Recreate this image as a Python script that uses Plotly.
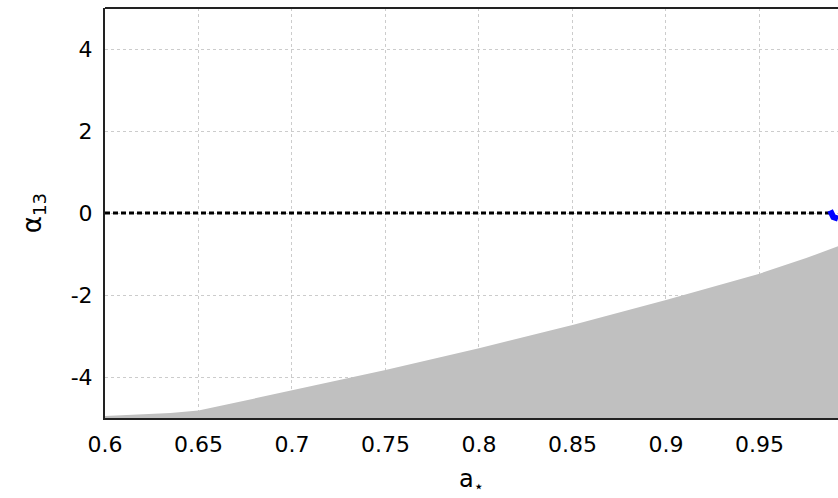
import plotly.graph_objects as go

# boundary of the excluded (gray) region
a_star = [0.6, 0.635, 0.65, 0.7, 0.75, 0.8, 0.85, 0.9, 0.95, 0.975, 0.992]
alpha_bound = [-4.95, -4.88, -4.82, -4.32, -3.83, -3.30, -2.73, -2.12, -1.48, -1.10, -0.81]

# zero reference line
zero_x = [0.6, 0.988]
zero_y = [0.0, 0.0]

# blue marker at the end
blue_x = [0.9878, 0.9895, 0.992]
blue_y = [0.06, -0.10, -0.14]

xticks = [0.6, 0.65, 0.7, 0.75, 0.8, 0.85, 0.9, 0.95]
xtick_text = ["0.6", "0.65", "0.7", "0.75", "0.8", "0.85", "0.9", "0.95"]
yticks = [-4, -2, 0, 2, 4]
ytick_text = ["-4", "-2", "0", "2", "4"]

fig = go.Figure()
fig.add_trace(go.Scatter(x=a_star, y=[-5] * len(a_star), mode="lines",
                         line=dict(width=0, color="rgba(0,0,0,0)"), showlegend=False, hoverinfo="skip"))
fig.add_trace(go.Scatter(x=a_star, y=alpha_bound, mode="lines", fill="tonexty",
                         fillcolor="#c0c0c0", line=dict(width=0, color="#c0c0c0"), showlegend=False))
fig.add_trace(go.Scatter(x=zero_x, y=zero_y, mode="lines",
                         line=dict(color="black", width=3, dash="5px,3px"), showlegend=False))
fig.add_trace(go.Scatter(x=blue_x, y=blue_y, mode="lines",
                         line=dict(color="#0000ff", width=6), showlegend=False, cliponaxis=False))

font = "DejaVu Sans, sans-serif"
fig.update_layout(
    width=838, height=498,
    margin=dict(l=105, r=0, t=8, b=80, autoexpand=False),
    plot_bgcolor="white", paper_bgcolor="white",
    font=dict(family=font, size=22, color="black"),
    showlegend=False,
)
fig.update_xaxes(range=[0.6, 0.992], tickvals=xticks, ticktext=xtick_text,
                 showgrid=True, gridcolor="#cccccc", griddash="dot", gridwidth=1,
                 showline=True, linecolor="#222222", linewidth=2, mirror=False,
                 ticks="", ticklabelstandoff=6, zeroline=False,
                 title=dict(text="a<sub>⋆</sub>", font=dict(size=24), standoff=14))
fig.update_yaxes(range=[-5, 5], tickvals=yticks, ticktext=ytick_text,
                 showgrid=True, gridcolor="#cccccc", griddash="dot", gridwidth=1,
                 showline=True, linecolor="#222222", linewidth=2,
                 ticks="", ticklabelstandoff=6, zeroline=False,
                 title=dict(text="α<sub>13</sub>", font=dict(size=26), standoff=22))
# top border
fig.add_shape(type="line", xref="paper", yref="paper", x0=0, x1=1, y0=1, y1=1,
              line=dict(color="#222222", width=2))

fig.write_html(
    "out.html",
    config={"displayModeBar": False},
    post_script="document.body.style.margin='0';document.documentElement.style.overflow='hidden';document.body.style.overflow='hidden';",
)
